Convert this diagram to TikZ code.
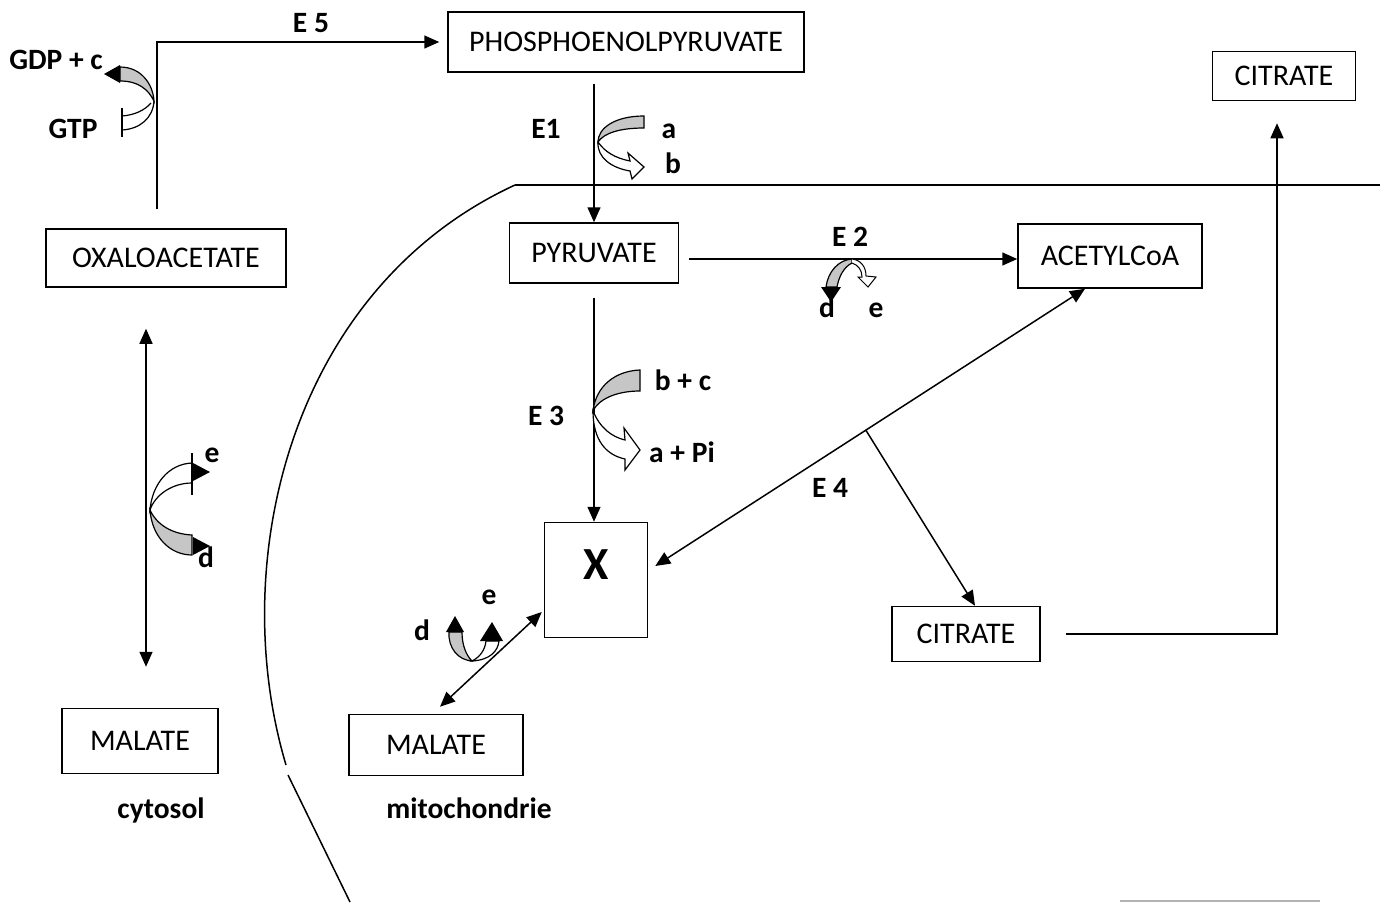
\documentclass[tikz,border=0pt]{standalone}
\usepackage{fontspec}
\setmainfont{Carlito}
\usetikzlibrary{arrows.meta}

\begin{document}
\begin{tikzpicture}[>={Triangle[length=15pt, width=13pt]}, x=1pt, y=-1pt, line width=1.5pt,
  box/.style={draw, inner sep=0pt, font=\fontsize{30}{36}\selectfont},
  lbl/.style={anchor=base, font=\fontsize{29.5}{35}\selectfont\bfseries},
  band/.style={draw, line width=1.2pt, fill=white},
  grayband/.style={band, fill=gray!45}]
\useasboundingbox (0,0) rectangle (1380,902);
% boxes
\node[box, minimum width=356pt, minimum height=60pt] (pep) at (626,42) {PHOSPHOENOLPYRUVATE};
\node[box, minimum width=143pt, minimum height=49pt] (cit) at (1284,76) {CITRATE};
\node[box, minimum width=240pt, minimum height=58pt] (oxalo) at (166,258) {OXALOACETATE};
\node[box, minimum width=169pt, minimum height=60pt] (pyr) at (594,253) {PYRUVATE};
\node[box, minimum width=184pt, minimum height=64pt] (acetyl) at (1110,256) {ACETYLCoA};
\node[box, minimum width=103pt, minimum height=115pt, text depth=30pt,
  font=\fontsize{46}{50}\selectfont\bfseries] (X) at (596,580) {X};
\node[box, minimum width=148pt, minimum height=55pt] (citm) at (966,634) {CITRATE};
\node[box, minimum width=156pt, minimum height=65pt] (malc) at (140,741) {MALATE};
\node[box, minimum width=174pt, minimum height=61pt] (malm) at (436,745) {MALATE};
% labels
\node[lbl] (e5) at (311,32) {E 5};
\node[lbl] (gdp) at (56,69) {GDP + c};
\node[lbl] (gtp) at (73,138) {GTP};
\node[lbl] (e1) at (546,138) {E1};
\node[lbl] (a1) at (669,138) {a};
\node[lbl] (b1) at (673,173) {b};
\node[lbl] (e2) at (850,246) {E 2};
\node[lbl] (d2) at (827,317) {d};
\node[lbl] (ee2) at (876,317) {e};
\node[lbl] (e3) at (546,425) {E 3};
\node[lbl] (bc) at (683,390) {b + c};
\node[lbl] (api) at (682,462) {a + Pi};
\node[lbl] (e4) at (830,497) {E 4};
\node[lbl] (ecyt) at (212,462) {e};
\node[lbl] (dcyt) at (206,567) {d};
\node[lbl] (dmit) at (422,640) {d};
\node[lbl] (emit) at (489,604) {e};
\node[lbl] (cyto) at (161,818) {cytosol};
\node[lbl] (mito) at (469,818) {mitochondrie};
% membrane
\draw (515,185) -- (1380,185);
\draw (515,185) .. controls (292,288) and (225,560) .. (286,765);
\draw (288,775) -- (350,902);
\draw[gray!60] (1120,901) -- (1320,901);
% connectors
\draw[->] ([xshift=-9pt, yshift=19pt]oxalo.north) |- ([xshift=-8pt]pep.west);
\draw[->, shorten <=11pt] (pyr.north |- pep.south) -- (pyr.north);
\draw[->, shorten <=10pt] ([yshift=-6pt]pyr.east) -- ([yshift=-3pt]acetyl.west);
\draw[->, shorten <=14pt] (pyr.south) -- (pyr.south |- X.north);
\draw[<->] ([xshift=7pt, yshift=14pt]X.east) -- coordinate[pos=0.49] (branch) ([xshift=-25pt]acetyl.south);
\draw[->] (branch) -- ([xshift=9pt]citm.north);
\draw[->, shorten <=25pt] (citm.east) -| ([xshift=-7pt, yshift=-22pt]cit.south);
\draw[<->] ([xshift=-20pt, yshift=-41pt]oxalo.south) -- ([xshift=6pt, yshift=41pt]malc.north);
\draw[<->] ([xshift=-2pt, yshift=-32pt]X.west) -- ([xshift=4pt, yshift=7pt]malm.north);
% E5 : GTP -> GDP + c
\draw[grayband] (120,67) .. controls (141,67) and (153,84) .. (154,101) .. controls (148,89) and (138,81) .. (120,81) -- cycle;
\draw[line width=1.2pt] (154,101) .. controls (153,118) and (140,129) .. (122,130);
\draw[line width=1.2pt] (151,103) .. controls (145,110) and (135,115) .. (122,116);
\draw[line width=1.6pt] (122,108) -- (122,137);
\fill (120,65) -- (120,83) -- (104,74) -- cycle;
% E1 : a -> b
\draw[grayband] (644,116) -- (644,128) .. controls (620,128) and (604,133) .. (598,142) .. controls (598,128) and (615,116) .. (644,116) -- cycle;
\draw[band] (598,142) .. controls (605,152) and (615,158) .. (630,161) -- (628,153) -- (644,167) -- (632,179) -- (630,171) .. controls (612,168) and (597,158) .. (598,142) -- cycle;
% E3 : b + c -> a + Pi
\draw[grayband] (640,370) -- (640,391) .. controls (615,391) and (598,400) .. (593,411) .. controls (596,386) and (615,371) .. (640,370) -- cycle;
\draw[band] (593,411) .. controls (600,428) and (612,437) .. (625,440) -- (624,428) -- (640,450) -- (625,470) -- (625,459) .. controls (606,455) and (593,440) .. (593,411) -- cycle;
% E2 : d, e
\draw[grayband] (852,259) .. controls (838,260) and (828,272) .. (826,287) -- (837,287) .. controls (839,276) and (844,267) .. (852,263) -- cycle;
\fill (821,287) -- (841,287) -- (831,302) -- cycle;
\draw[band, line width=1pt] (852,259) .. controls (861,260) and (866,267) .. (866,276) -- (876,277) -- (868,287) -- (858,277) -- (862,277) .. controls (862,270) and (858,265) .. (852,263);
% cytosol : e, d
\draw[band] (192,463) .. controls (168,464) and (152,485) .. (150,510) .. controls (155,495) and (172,483) .. (192,483);
\draw[line width=1.6pt] (192,453) -- (192,495);
\fill (193,463) -- (210,472) -- (193,481) -- cycle;
\draw[grayband] (150,510) .. controls (157,525) and (172,534) .. (192,535) -- (192,555) .. controls (170,555) and (152,537) .. (150,510) -- cycle;
\fill (193,537) -- (210,546) -- (193,555) -- cycle;
% mitochondrie : d, e
\draw[grayband] (449,632) .. controls (448,648) and (458,660) .. (472,661) .. controls (466,655) and (462,645) .. (462,632) -- cycle;
\fill (446,632) -- (464,632) -- (455,616) -- cycle;
\draw[band] (472,661) .. controls (490,660) and (498,651) .. (499,641) -- (486,641) .. controls (485,650) and (480,657) .. (472,661) -- cycle;
\fill (480,641) -- (503,641) -- (492,622) -- cycle;
\end{tikzpicture}
\end{document}
